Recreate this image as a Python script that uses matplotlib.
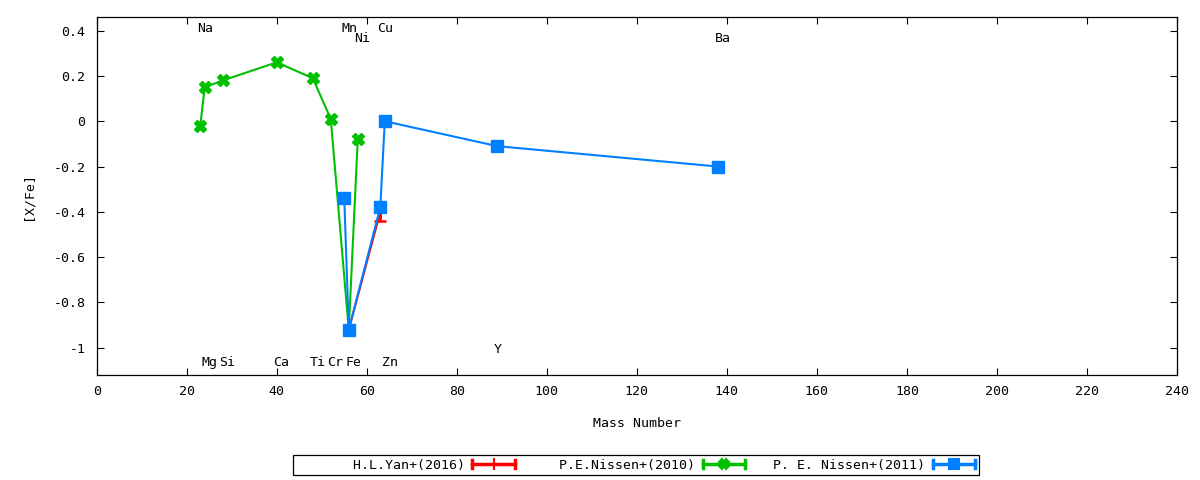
import matplotlib
matplotlib.use("Agg")
import matplotlib.pyplot as plt
from matplotlib.legend_handler import HandlerBase
from matplotlib.lines import Line2D

# ---- data ----
yan_mass = [56, 63]
yan_val = [-0.92, -0.40]
yan_err = [0.0, 0.04]

nissen10_mass = [23, 24, 28, 40, 48, 52, 56, 58]
nissen10_val = [-0.02, 0.15, 0.18, 0.26, 0.19, 0.01, -0.92, -0.08]

nissen11_mass = [55, 56, 63, 64, 89, 138]
nissen11_val = [-0.34, -0.92, -0.38, 0.00, -0.11, -0.20]

elem_names = ["Na", "Mn", "Ni", "Cu", "Ba", "Mg", "Si", "Ca", "Ti", "Cr", "Fe", "Zn", "Y"]
elem_mass = [23, 55, 58, 63, 138, 24, 28, 40, 48, 52, 56, 64, 89]
elem_label_y = [0.41, 0.41, 0.366, 0.41, 0.366, -1.066, -1.066, -1.066, -1.066, -1.066, -1.066, -1.066, -1.009]

series_labels = ["H.L.Yan+(2016)", "P.E.Nissen+(2010)", "P. E. Nissen+(2011)"]
x_ticks = list(range(0, 241, 20))
y_ticks = [-1, -0.8, -0.6, -0.4, -0.2, 0, 0.2, 0.4]
y_ticklabels = ["-1", "-0.8", "-0.6", "-0.4", "-0.2", "0", "0.2", "0.4"]

RED = "#ff0000"
GREEN = "#00c000"
BLUE = "#0080ff"

plt.rcParams['font.family'] = ['DejaVu Sans Mono']
plt.rcParams['font.size'] = 9.5

fig = plt.figure(figsize=(12, 4.8), dpi=100)
ax = fig.add_axes([96.7 / 1200, 1 - 375 / 480, (1177 - 96.7) / 1200, (375 - 17) / 480])

ax.errorbar(yan_mass, yan_val, yerr=yan_err, color=RED, lw=1.5, marker='+',
            ms=8, mew=1.8, capsize=4, capthick=1.8, elinewidth=1.8, zorder=2)
ax.plot(nissen10_mass, nissen10_val, color=GREEN, lw=1.5, marker='X', ms=8,
        mec=GREEN, mfc=GREEN, zorder=3)
ax.plot(nissen11_mass, nissen11_val, color=BLUE, lw=1.5, marker='s', ms=8,
        mec=BLUE, mfc=BLUE, zorder=4)

for name, m, yy in zip(elem_names, elem_mass, elem_label_y):
    ax.text(m - 0.7, yy, name, ha='left', va='center', fontsize=9.5)

ax.set_xlim(0, 240)
ax.set_ylim(-1.12, 0.46)
ax.set_xticks(x_ticks)
ax.set_yticks(y_ticks)
ax.set_yticklabels(y_ticklabels)
ax.tick_params(direction='in', length=5, width=0.8, top=True, right=True, pad=7)
ax.tick_params(axis='y', pad=8)
for s in ax.spines.values():
    s.set_linewidth(0.9)
ax.set_xlabel("Mass Number", labelpad=14)
ax.set_ylabel("[X/Fe]", labelpad=14)


class ErrHandler(HandlerBase):
    def __init__(self, color, marker, ms, **kw):
        super().__init__(**kw)
        self.color = color
        self.marker = marker
        self.ms = ms

    def create_artists(self, legend, orig_handle, xdescent, ydescent, width, height, fontsize, trans):
        y = height / 2 - ydescent
        x0 = -xdescent
        x1 = -xdescent + width
        arts = []
        arts.append(Line2D([x0, x1], [y, y], color=self.color, lw=2.5, transform=trans))
        cap = height * 0.45
        arts.append(Line2D([x0, x0], [y - cap, y + cap], color=self.color, lw=2.5, transform=trans))
        arts.append(Line2D([x1, x1], [y - cap, y + cap], color=self.color, lw=2.5, transform=trans))
        arts.append(Line2D([(x0 + x1) / 2], [y], color=self.color, marker=self.marker,
                           ms=self.ms, mew=1.5, mec=self.color, mfc=self.color, lw=0, transform=trans))
        return arts


# gnuplot-style right-justified legend entries (monospace padding)
padded = [s.rjust(21) for s in series_labels]

h1 = Line2D([], [], color=RED)
h2 = Line2D([], [], color=GREEN)
h3 = Line2D([], [], color=BLUE)
leg = fig.legend([h1, h2, h3], padded, ncol=3, loc='center',
                 bbox_to_anchor=(636 / 1200, 1 - 465 / 480), markerfirst=False,
                 handler_map={h1: ErrHandler(RED, '+', 8), h2: ErrHandler(GREEN, 'X', 7),
                              h3: ErrHandler(BLUE, 's', 7)},
                 frameon=True, fancybox=False, edgecolor='black', framealpha=1,
                 handlelength=3.2, handletextpad=0.6, columnspacing=0.93,
                 borderpad=0.25, borderaxespad=0, fontsize=9.5)
leg.get_frame().set_linewidth(0.9)

fig.savefig("out.png", dpi=100)
